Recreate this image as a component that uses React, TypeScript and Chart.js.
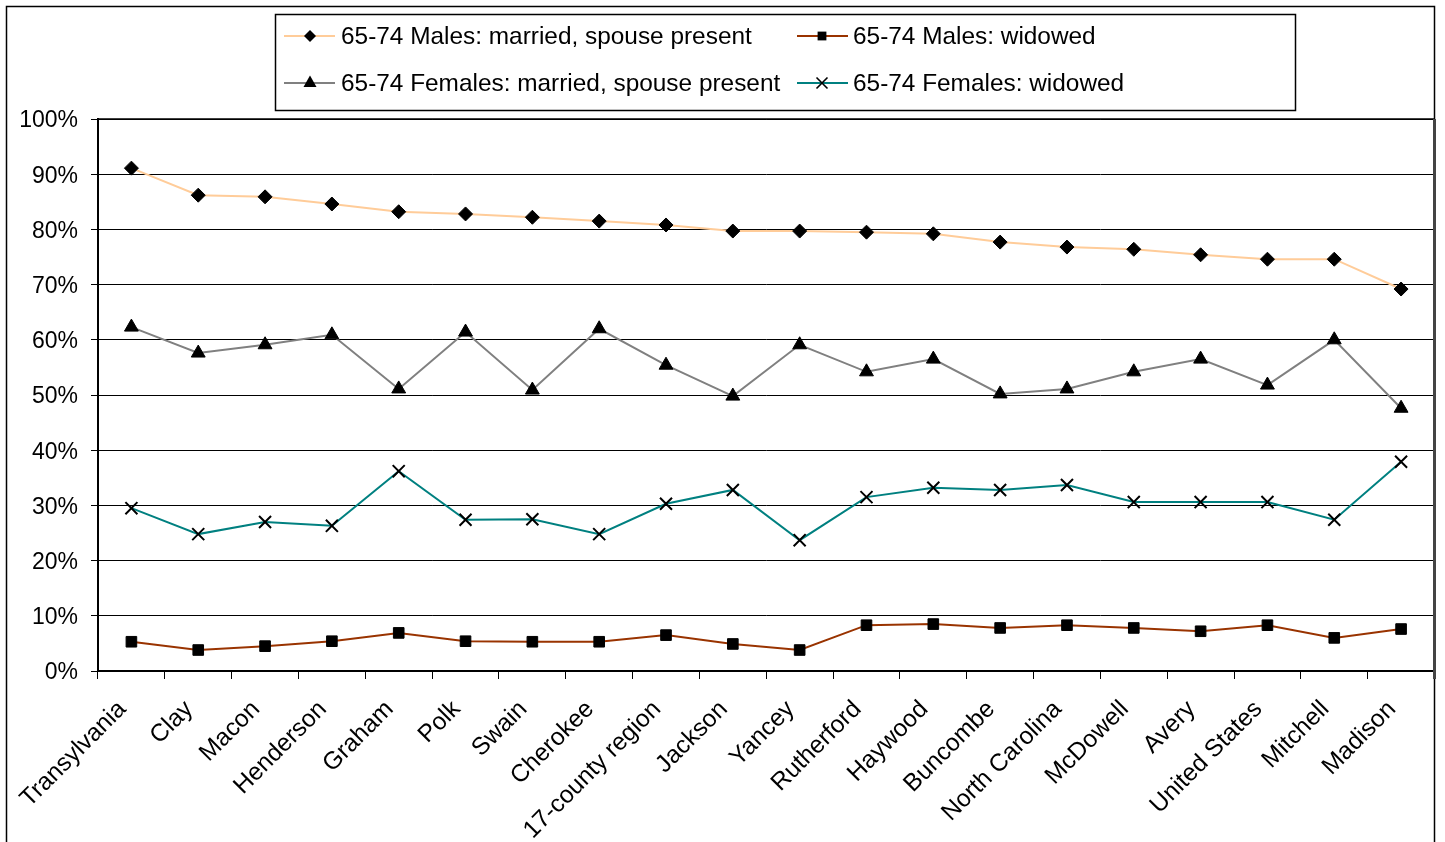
import React, { useEffect, useRef } from "react";
import { Chart, registerables } from "chart.js";

Chart.register(...registerables);

const categories = [
  "Transylvania", "Clay", "Macon", "Henderson", "Graham", "Polk", "Swain", "Cherokee",
  "17-county region", "Jackson", "Yancey", "Rutherford", "Haywood", "Buncombe",
  "North Carolina", "McDowell", "Avery", "United States", "Mitchell", "Madison",
];

const malesMarried = [91.1, 86.2, 85.9, 84.6, 83.2, 82.8, 82.2, 81.5, 80.8, 79.7, 79.7, 79.5, 79.2, 77.7, 76.8, 76.4, 75.4, 74.6, 74.6, 69.2];
const malesWidowed = [5.3, 3.8, 4.5, 5.4, 6.9, 5.4, 5.3, 5.3, 6.5, 4.9, 3.8, 8.3, 8.5, 7.8, 8.3, 7.8, 7.2, 8.3, 6.0, 7.6];
const femalesMarried = [62.3, 57.6, 59.1, 60.9, 51.1, 61.4, 50.9, 62.0, 55.4, 49.8, 59.1, 54.2, 56.5, 50.2, 51.1, 54.2, 56.5, 51.8, 60.0, 47.6];
const femalesWidowed = [29.5, 24.8, 27.0, 26.3, 36.2, 27.4, 27.5, 24.8, 30.3, 32.8, 23.7, 31.5, 33.2, 32.8, 33.7, 30.6, 30.6, 30.6, 27.4, 37.9];

const seriesLabels = [
  "65-74 Males: married, spouse present",
  "65-74 Males: widowed",
  "65-74 Females: married, spouse present",
  "65-74 Females: widowed",
];
const seriesColors = ["#FFCC99", "#993300", "#808080", "#008080"];
const seriesStyles = ["rectRot", "rect", "triangle", "crossRot"];
const FONT = "'Liberation Sans', Arial, sans-serif";

function drawMarker(ctx: CanvasRenderingContext2D, style: string, x: number, y: number, s: number) {
  ctx.save();
  ctx.fillStyle = "#000";
  ctx.strokeStyle = "#000";
  ctx.beginPath();
  if (style === "rectRot") {
    ctx.moveTo(x, y - s); ctx.lineTo(x + s, y); ctx.lineTo(x, y + s); ctx.lineTo(x - s, y); ctx.closePath(); ctx.fill();
  } else if (style === "rect") {
    ctx.rect(x - s * 0.8, y - s * 0.8, s * 1.6, s * 1.6); ctx.fill();
  } else if (style === "triangle") {
    ctx.moveTo(x, y - s); ctx.lineTo(x + s, y + s * 0.75); ctx.lineTo(x - s, y + s * 0.75); ctx.closePath(); ctx.fill();
  } else {
    ctx.lineWidth = 1.6;
    ctx.moveTo(x - s, y - s); ctx.lineTo(x + s, y + s); ctx.moveTo(x + s, y - s); ctx.lineTo(x - s, y + s); ctx.stroke();
  }
  ctx.restore();
}

const framePlugin = {
  id: "framePlugin",
  beforeDraw(chart: any) {
    const ctx = chart.ctx as CanvasRenderingContext2D;
    ctx.save();
    ctx.fillStyle = "#fff";
    ctx.fillRect(0, 0, chart.width, chart.height);
    ctx.strokeStyle = "#000";
    ctx.lineWidth = 1.5;
    ctx.strokeRect(6.5, 6.5, 1428, 860);
    ctx.restore();
  },
  afterDraw(chart: any) {
    const ctx = chart.ctx as CanvasRenderingContext2D;
    const a = chart.chartArea;
    ctx.save();
    ctx.strokeStyle = "#000";
    ctx.lineWidth = 1.5;
    ctx.beginPath();
    ctx.moveTo(a.left, a.top);
    ctx.lineTo(a.right, a.top);
    ctx.stroke();
    ctx.strokeStyle = "#444";
    ctx.lineWidth = 3;
    ctx.beginPath();
    ctx.moveTo(a.right, a.top);
    ctx.lineTo(a.right, a.bottom + 8);
    ctx.stroke();

    // legend
    ctx.strokeStyle = "#000";
    ctx.lineWidth = 1.5;
    ctx.strokeRect(275.5, 14.5, 1020, 96);
    const cols = [{ lx0: 284, lx1: 335, mx: 310, tx: 341 }, { lx0: 797, lx1: 848, mx: 822, tx: 853 }];
    const rows = [36, 83];
    const order = [[0, 0, 0], [1, 1, 0], [2, 0, 1], [3, 1, 1]];
    ctx.font = `24.4px ${FONT}`;
    ctx.textBaseline = "middle";
    ctx.textAlign = "left";
    for (const [i, c, r] of order) {
      const col = cols[c];
      const y = rows[r];
      ctx.strokeStyle = seriesColors[i];
      ctx.lineWidth = 2;
      ctx.beginPath();
      ctx.moveTo(col.lx0, y);
      ctx.lineTo(col.lx1, y);
      ctx.stroke();
      const sz = i === 0 ? 6 : i === 1 ? 5.5 : i === 2 ? 6.5 : 5.5;
      drawMarker(ctx, seriesStyles[i], col.mx, i === 2 ? y - 1 : y, sz);
      ctx.fillStyle = "#000";
      ctx.fillText(seriesLabels[i], col.tx, y + 1);
    }
    ctx.restore();
  },
};

export default function App() {
  const ref = useRef<HTMLCanvasElement>(null);
  useEffect(() => {
    if (!ref.current) return;
    const data = [malesMarried, malesWidowed, femalesMarried, femalesWidowed];
    const radii = [7, 7.5, 8, 8.5];
    const chart = new Chart(ref.current, {
      type: "line",
      data: {
        labels: categories,
        datasets: data.map((d, i) => ({
          label: seriesLabels[i],
          data: d,
          borderColor: seriesColors[i],
          backgroundColor: "#000",
          borderWidth: 2,
          pointStyle: seriesStyles[i] as any,
          pointRadius: radii[i],
          pointHoverRadius: radii[i],
          pointBackgroundColor: "#000",
          pointBorderColor: "#000",
          pointBorderWidth: i === 3 ? 2 : 1,
          tension: 0,
          fill: false,
        })),
      },
      options: {
        animation: false,
        responsive: false,
        events: [],
        layout: { padding: { top: 119, left: 0, right: 8, bottom: 0 } },
        plugins: { legend: { display: false }, tooltip: { enabled: false } },
        scales: {
          x: {
            type: "category",
            offset: true,
            afterFit: (s: any) => { s.height = 171; },
            grid: { offset: true, drawOnChartArea: false, drawTicks: true, tickLength: 8, color: "#000", lineWidth: 1 },
            border: { display: true, color: "#000", width: 2 },
            ticks: {
              autoSkip: false,
              maxRotation: 45,
              minRotation: 45,
              padding: 16,
              labelOffset: -9,
              color: "#000",
              font: { family: FONT, size: 24.5 },
            },
          },
          y: {
            min: 0,
            max: 100,
            afterFit: (s: any) => { s.width = 98; },
            grid: { drawTicks: true, tickLength: 7, color: "#000", lineWidth: 1 },
            border: { display: true, color: "#000", width: 2 },
            ticks: {
              stepSize: 10,
              padding: 13,
              labelOffset: 2,
              color: "#000",
              font: { family: FONT, size: 23 },
              callback: (v: any) => `${v}%`,
            },
          },
        },
      },
      plugins: [framePlugin],
    });
    return () => chart.destroy();
  }, []);
  return (
    <div style={{ position: "fixed", left: 0, top: 0, width: 1445, height: 842, background: "#fff" }}>
      <canvas ref={ref} width={1445} height={842} style={{ display: "block", width: 1445, height: 842 }} />
    </div>
  );
}
